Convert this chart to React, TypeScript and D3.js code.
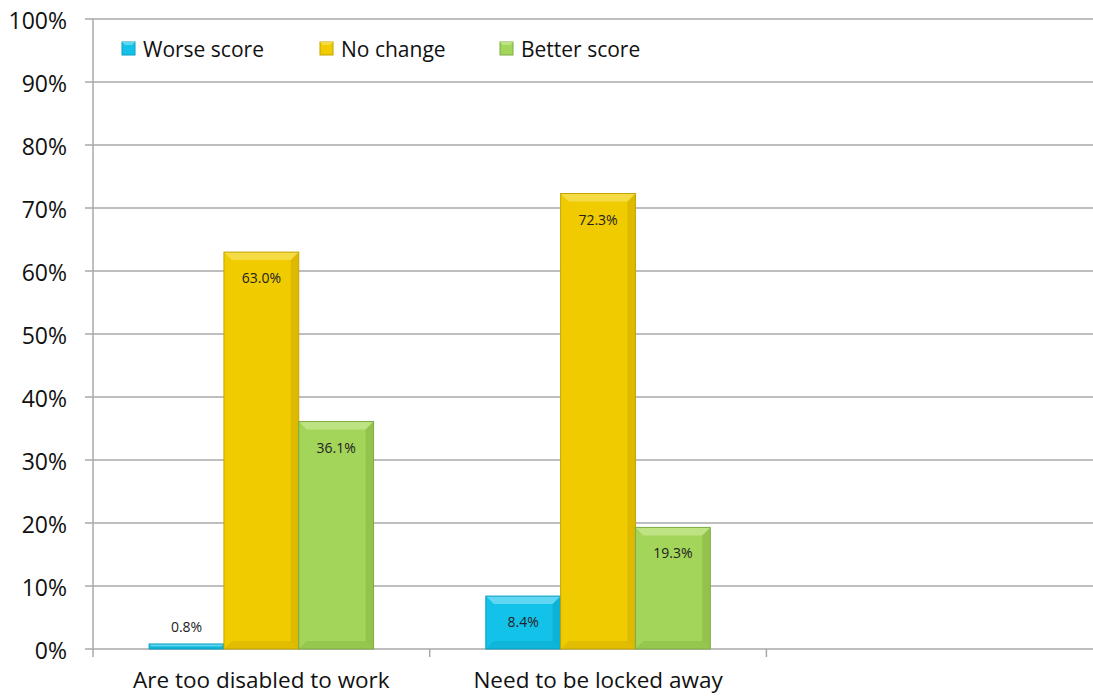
import React from "react";
import * as d3 from "d3";

const categories = ["Are too disabled to work", "Need to be locked away", ""];
const seriesNames = ["Worse score", "No change", "Better score"];
const worse = [0.8, 8.4];
const noChange = [63.0, 72.3];
const better = [36.1, 19.3];
const yTicks = [0, 10, 20, 30, 40, 50, 60, 70, 80, 90, 100];

const colors = [
  { base: "#12c2e9", light: "#5fd6f2", dark: "#0a8fb0", edge: "#0b9ec0" },
  { base: "#efcb00", light: "#f5dc45", dark: "#b39400", edge: "#c4a400" },
  { base: "#a3d55a", light: "#bde383", dark: "#6f9a33", edge: "#7faa42" },
];

export default function App() {
  const W = 1093, H = 696;
  const left = 93, top = 19, bottom = 649;
  const right = left + 3 * 336.7;
  const x = d3.scaleBand<string>().domain(["0", "1", "2"]).range([left, right]).paddingInner(0).paddingOuter(0);
  const inner = d3.scaleBand<string>().domain(["0", "1", "2"]).range([0, x.bandwidth()]).paddingInner(0).paddingOuter(0.75);
  const y = d3.scaleLinear().domain([0, 100]).range([bottom, top]);
  const series = [worse, noChange, better];
  const font = "'Open Sans', sans-serif";

  const bars: JSX.Element[] = [];
  series.forEach((vals, si) => {
    vals.forEach((v, ci) => {
      const bx = (x(String(ci)) as number) + (inner(String(si)) as number);
      const bw = inner.bandwidth();
      const by = y(v);
      const bh = bottom - by;
      const c = colors[si];
      const bev = Math.min(8, bh / 2, bw / 2);
      bars.push(
        <g key={`b${si}-${ci}`}>
          <rect x={bx} y={by} width={bw} height={bh} fill={c.base} />
          <polygon points={`${bx},${by} ${bx + bw},${by} ${bx + bw - bev},${by + bev} ${bx + bev},${by + bev}`} fill={c.light} />
          <polygon points={`${bx + bw},${by} ${bx + bw - bev},${by + bev} ${bx + bw - bev},${bottom - bev} ${bx + bw},${bottom}`} fill={c.dark} opacity={0.3} />
          <polygon points={`${bx},${bottom} ${bx + bw},${bottom} ${bx + bw - bev},${bottom - bev} ${bx + bev},${bottom - bev}`} fill={c.dark} opacity={0.25} />
          <rect x={bx} y={by} width={bw} height={bh} fill="none" stroke={c.edge} strokeWidth={1} />
          <text
            x={bx + bw / 2}
            y={v < 3 ? by - 12 : by + 31}
            textAnchor="middle"
            fontSize={14}
            fontFamily={font}
            fill="#222"
          >
            {v.toFixed(1)}%
          </text>
        </g>
      );
    });
  });

  const legendX = [122, 320, 500];

  return (
    <svg width={W} height={H} style={{ position: "absolute", left: 0, top: 0, background: "#fff" }}>
      {yTicks.map((t) => (
        <g key={t}>
          <line x1={left - 8} x2={W} y1={y(t)} y2={y(t)} stroke="#a8a8a8" strokeWidth={1.5} />
          <text x={67} y={y(t) + 10} textAnchor="end" fontSize={23} fontFamily={font} fill="#111">
            {t}%
          </text>
        </g>
      ))}
      <line x1={left} x2={left} y1={top} y2={bottom} stroke="#a8a8a8" strokeWidth={1.5} />
      {[0, 1, 2, 3].map((i) => (
        <line key={i} x1={left + i * x.bandwidth()} x2={left + i * x.bandwidth()} y1={bottom} y2={bottom + 8} stroke="#a8a8a8" strokeWidth={1.5} />
      ))}
      {bars}
      {categories.map((c, i) => (
        <text key={i} x={(x(String(i)) as number) + x.bandwidth() / 2} y={688} textAnchor="middle" fontSize={22.5} fontFamily={font} fill="#111">
          {c}
        </text>
      ))}
      {seriesNames.map((n, i) => (
        <g key={n}>
          <rect x={legendX[i]} y={42} width={13} height={13} fill={colors[i].base} stroke={colors[i].edge} />
          <polygon points={`${legendX[i]},42 ${legendX[i] + 13},42 ${legendX[i] + 10},45 ${legendX[i] + 3},45`} fill={colors[i].light} />
          <text x={legendX[i] + 21} y={57} fontSize={21} fontFamily={font} fill="#111">
            {n}
          </text>
        </g>
      ))}
    </svg>
  );
}
